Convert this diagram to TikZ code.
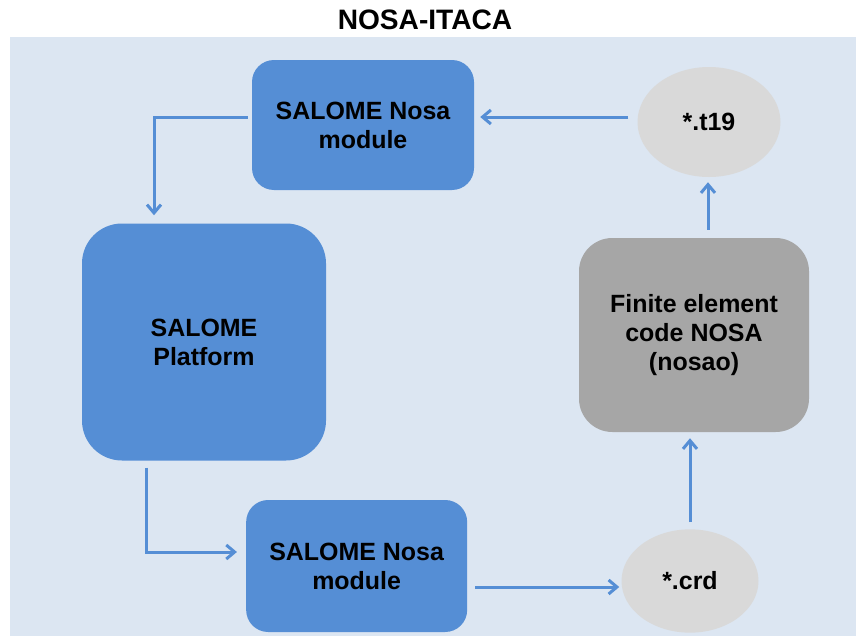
\documentclass[tikz,border=0pt]{standalone}
\usepackage{fontspec}
\setmainfont{Liberation Sans}
\usetikzlibrary{arrows.meta,shapes.geometric}
\definecolor{panelblue}{HTML}{DCE6F2}
\definecolor{boxblue}{HTML}{558ED5}
\definecolor{filegray}{HTML}{D9D9D9}
\definecolor{codegray}{HTML}{A6A6A6}
\begin{document}
\begin{tikzpicture}
    \tikzstyle{module box}=[rectangle, rounded corners=0.66cm, fill=boxblue, minimum width=6.66cm, minimum height=3.9cm, align=center, font=\fontsize{21.3}{24.8}\selectfont\bfseries];
    \tikzstyle{data file}=[ellipse, fill=filegray, inner sep=0pt, align=center, font=\fontsize{21.3}{24.8}\selectfont\bfseries];
    \tikzstyle{flow}=[draw=boxblue, line width=0.09cm, -{Straight Barb[length=0.25cm, width=0.42cm]}];

    \useasboundingbox (0,0) rectangle (25.68,-19.08);
    \fill[panelblue] (0.3,-1.11) rectangle (25.68,-19.08);

    \node[font=\fontsize{24}{28}\selectfont\bfseries] (title) at (12.75,-0.6) {NOSA-ITACA};

    \node[module box] (mod1) at (10.89,-3.75) {SALOME Nosa\\module};
    \node[module box, rounded corners=1.2cm, minimum width=7.32cm, minimum height=7.11cm] (plat) at (6.12,-10.26) {SALOME\\Platform};
    \node[module box, minimum width=6.63cm, minimum height=3.96cm] (mod2) at (10.7,-16.98) {SALOME Nosa\\module};

    \node[data file, minimum width=4.29cm, minimum height=3.3cm] (t19) at (21.27,-3.66) {*.t19};
    \node[module box, fill=codegray, rounded corners=1cm, minimum width=6.9cm, minimum height=5.82cm] (fem) at (20.82,-10.05) {Finite element\\code NOSA\\(nosao)};
    \node[data file, minimum width=4.11cm, minimum height=3.1cm] (crd) at (20.7,-17.43) {*.crd};

    \draw[flow, shorten <=0.12cm, shorten >=0.24cm] ([yshift=0.24cm]mod1.west) -| ([xshift=-1.5cm]plat.north);
    \draw[flow, shorten <=0.27cm, shorten >=0.18cm] ([yshift=0.15cm]t19.west) -- ([yshift=0.15cm]t19.west -| mod1.east);
    \draw[flow, shorten <=0.24cm, shorten >=0.15cm] ([xshift=0.42cm]fem.north) -- ([xshift=0.42cm]fem.north |- t19.south);
    \draw[flow, shorten <=0.21cm, shorten >=0.18cm] (crd.north) -- (crd.north |- fem.south);
    \draw[flow, shorten <=0.21cm, shorten >=0.27cm] ([xshift=-1.74cm]plat.south) |- ([yshift=0.42cm]mod2.west);
    \draw[flow, shorten <=0.24cm, shorten >=0.06cm] ([yshift=-0.63cm]mod2.east) -- ([yshift=-0.63cm]mod2.east -| crd.west);

\end{tikzpicture}
\end{document}
